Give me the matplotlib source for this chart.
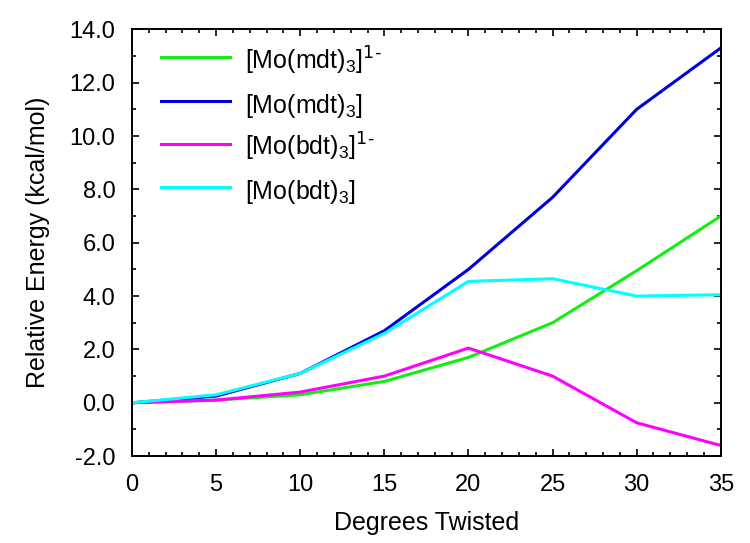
import matplotlib
matplotlib.use('Agg')
import matplotlib.pyplot as plt
from matplotlib.ticker import MultipleLocator, FormatStrFormatter
from matplotlib.transforms import offset_copy

plt.rcParams['font.family'] = ['Liberation Sans', 'DejaVu Sans']
plt.rcParams['mathtext.default'] = 'regular'
plt.rcParams['axes.unicode_minus'] = False

# datos
degrees = [0, 5, 10, 15, 20, 25, 30, 35]
mdt_anion = [0.0, 0.1, 0.3, 0.8, 1.7, 3.0, 4.95, 7.0]
mdt_neutral = [0.0, 0.25, 1.1, 2.7, 5.0, 7.7, 11.0, 13.3]
bdt_anion = [0.0, 0.1, 0.4, 1.0, 2.05, 1.0, -0.75, -1.6]
bdt_neutral = [0.0, 0.3, 1.1, 2.6, 4.55, 4.65, 4.0, 4.05]

labels = [r'[Mo(mdt)$_3$]$^{\text{1-}}$', r'[Mo(mdt)$_3$]',
          r'[Mo(bdt)$_3$]$^{\text{1-}}$', r'[Mo(bdt)$_3$]']
colors = ['#11ee11', '#0000dd', '#ff00ff', '#00ffff']
series = [mdt_anion, mdt_neutral, bdt_anion, bdt_neutral]

fig = plt.figure(figsize=(7.5, 5.43), dpi=100)
ax = fig.add_axes([0.176, 0.160, 0.785, 0.786])

for vals, lab, col in zip(series, labels, colors):
    ax.plot(degrees, vals, color=col, linewidth=2.2, label=lab)

ax.set_xlim(0, 35)
ax.set_ylim(-2, 14)
ax.xaxis.set_major_locator(MultipleLocator(5))
ax.xaxis.set_minor_locator(MultipleLocator(1))
ax.yaxis.set_major_locator(MultipleLocator(2))
ax.yaxis.set_minor_locator(MultipleLocator(1))
ax.yaxis.set_major_formatter(FormatStrFormatter('%.1f'))

ax.tick_params(which='both', direction='in', top=True, right=True, width=1.2)
ax.tick_params(which='major', length=5, labelsize=17, pad=12)
ax.tick_params(axis='x', which='major', pad=13)
ax.tick_params(which='minor', length=3)
for s in ax.spines.values():
    s.set_linewidth(1.4)

ax.set_xlabel('Degrees Twisted', fontsize=18, labelpad=11)
ax.set_ylabel('Relative Energy (kcal/mol)', fontsize=18, labelpad=14)

# leyenda dibujada a mano para que el espaciado sea uniforme
text_tr = offset_copy(ax.transAxes, fig=fig, y=-12, units='dots')
for i, (lab, col) in enumerate(zip(labels, colors)):
    yy = 0.934 - i * 0.101
    ax.plot([0.049, 0.166], [yy, yy], color=col, linewidth=2.2,
            transform=ax.transAxes)
    ax.text(0.192, yy, lab, fontsize=18, va='baseline', ha='left',
            transform=text_tr)

fig.savefig('out.png', dpi=100)
